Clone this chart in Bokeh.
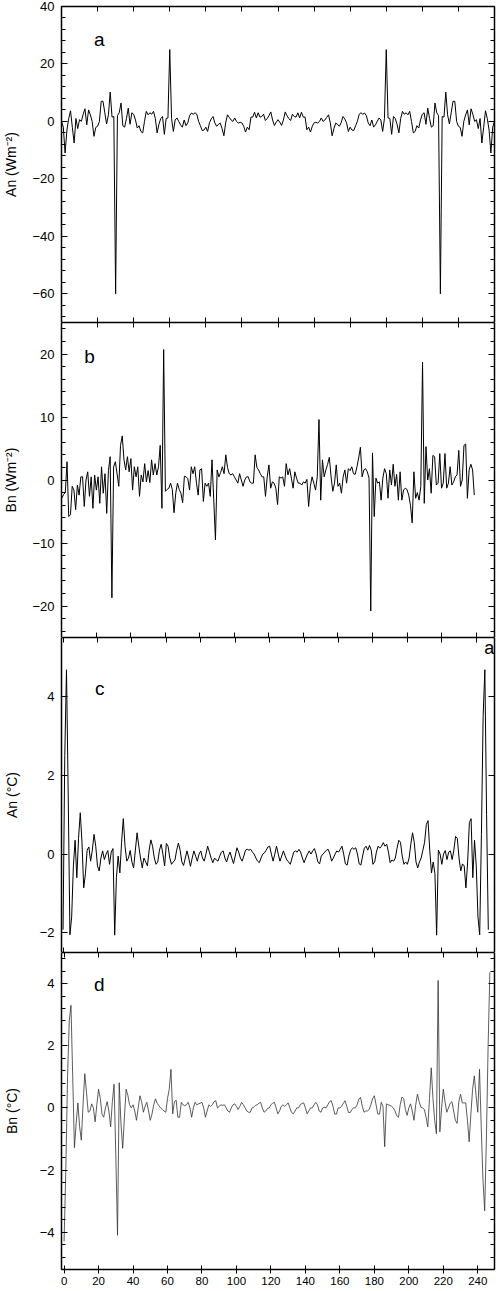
from bokeh.plotting import figure
from bokeh.models import LinearAxis, Range1d, SingleIntervalTicker, FixedTicker, Label, ColumnDataSource
from bokeh.layouts import column
from bokeh.embed import file_html
from bokeh.resources import INLINE

FONT = "Liberation Sans"

# ---------------- data ----------------
# a: An of the flux series (Wm-2), harmonics 0..240
an_flux = [
    0, -2, -11, -3, 1, 3.7, -2, -7.5, 1, -2.5,
    0.6, 0, 2.5, 4.4, -1.2, 4, 2.3, 0, -5.2, -2.1,
    -1.7, 0, 7, 7, 3, -0.9, 2.3, 10.2, 1.5, 1.7,
    -60, 2, 3, 6.4, -1.5, -2, 1, 4.6, -1, 3,
    2.5, 0.5, -2.3, -1.5, -3.5, -4, 0, 3.5, 2.3, 3,
    2.5, 3.5, 1, -4, -1, 1, 1.7, -4.5, 1, 1.2,
    25, 1, -3.5, 0.5, 1.2, 0, -1.2, -2, 0.5, -1.5,
    -0.5, 2, 2.9, 2.5, 3, 2.5, 0, -1.5, -3.2, -3,
    -2, -3.5, -0.5, 0.9, 1.7, -0.5, -1.7, -1, -0.6, -2.5,
    -5, -0.5, 2.3, 1.4, 0.5, 0, 1.2, 0, -0.6, -0.3,
    -0.5, -1.7, -3.7, -2, -2.9, 1.5, 1.5, 3.2, 1.2, 3,
    1.5, 1.7, 2.5, 0.3, 1, 2, 3.3, 0.5, -1.4, -0.3,
    0.6, -0.3, -1.4, 0.5, 3.3, 2, 1, 0.3, 2.5, 1.7,
    1.5, 3, 1.2, 3.2, 1.5, 1.5, -2.9, -2, -3.7, -1.7,
    -0.5, -0.3, -0.6, 0, 1.2, 0, 0.5, 1.4, 2.3, -0.5,
    -5, -2.5, -0.6, -1, -1.7, -0.5, 1.7, 0.9, -0.5, -3.5,
    -2, -3, -3.2, -1.5, 0, 2.5, 3, 2.5, 2.9, 2,
    -0.5, -1.5, 0.5, -2, -1.2, 0, 1.2, 0.5, -3.5, 1,
    25, 1.2, 1, -4.5, 1.7, 1, -1, -4, 1, 3.5,
    2.5, 3, 2.3, 3.5, 0, -4, -3.5, -1.5, -2.3, 0.5,
    2.5, 3, -1, 4.6, 1, -2, -1.5, 6.4, 3, 2,
    -60, 1.7, 1.5, 10.2, 2.3, -0.9, 3, 7, 7, 0,
    -1.7, -2.1, -5.2, 0, 2.3, 4, -1.2, 4.4, 2.5, 0,
    0.6, -2.5, 1, -7.5, -2, 3.7, 1, -3, -11, -2,
    0,
]

# b: Bn of the flux series (Wm-2), harmonics 0..239
bn_flux = [
    -2.9, -2.3, -2, 2.9, -5.8, -5.5, -1, -1.6, -4.7, -0.8,
    -2.4, 0.5, 0.5, -4.2, 0, 1.3, -2.6, 0.5, -4.5, 0.8,
    -1.6, 0.5, -3.7, 2.1, -2.1, 1, -5.3, 1.5, 3.7, -18.7,
    2.1, 2.9, 1, -1, 5.5, 7, 3.2, 1.6, 3.7, 1.3,
    3.4, -1.6, 2.1, 0.5, 2.1, -2.6, 0.8, -0.3, 2.6, -0.3,
    1.5, -0.4, 3.2, 0.8, 2.6, 0.8, 2.1, 5.5, -4.5, 20.7,
    -1.8, -1.5, -1.3, -0.5, -1.5, -5.2, -2.1, -0.5, -1.5, -2.1,
    -3.6, 0.6, 0.5, 0.2, -1.6, 2.1, 1, 2.1, -0.5, -2.4,
    1.6, 1.8, -3.4, -0.5, -1, -0.5, -2.6, 3.2, -3, -9.5,
    1.6, 0.5, 1.2, 2.1, 1, 4, 2, 1, 0.8, 1,
    0.5, 0, -0.5, 1, 0, -1, 0, 0.5, 0.5, -0.3,
    -0.5, -0.5, 4, 2, 1.6, 1, 0.5, 0.5, -2.6, 0.5,
    2.4, -1.3, -0.3, -0.5, -1.3, -3.9, 0.5, 0.3, 0.5, -1,
    2.6, 0.8, 1.8, 0.3, -1.3, 1.3, 0.3, -0.5, -0.5, -0.8,
    -0.3, -0.5, 0.1, -4.2, -1, 0.5, -0.5, -1.6, 0.5, 9.6,
    -3.2, 3.2, 0.5, 1.6, 2.5, 3.6, 0.5, -1.8, -0.5, 2.4,
    -1, -0.5, -2.1, 0.5, 1.6, -0.5, 1.8, 1.5, 2.1, 1,
    0.9, 2.1, 3.5, 5.2, 0.5, 1.6, 1.8, 1.3, 0.3, -20.8,
    4.3, -5.8, 0.3, -0.5, -0.3, -3.2, 0.3, 1.8, 1, -2.9,
    1.6, -0.8, 2.5, -1, 0.9, -3.2, 1.3, -3.2, -1.6, -1.3,
    -1.5, -2.4, -4, -6.8, 1.3, -2.9, -2, -3.2, -1, 18.7,
    -3.7, 5.3, 0, 1.8, -2.1, 3.9, 3.7, -0.8, -0.5, 4.2,
    -1.3, -0.5, 4.2, -1.3, -0.5, 2.1, -0.8, -0.3, 0.5, 0.8,
    4.7, -1, 0, 5.5, 5.7, -2.9, 1.6, 2.5, 1.6, -2.4,
]

# c: An of the temperature series (deg C), harmonics 0..247
an_temp = [
    -1.92, 2.5, 4.68, 1.5, -2.05, -1.6, -0.3, 0.35, -0.6, 0.4,
    1.05, 0.3, -0.86, -0.5, 0.1, 0.18, -0.18, 0.1, 0.5, 0.2,
    -0.3, -0.43, -0.1, 0.08, -0.14, 0, 0.09, -0.26, 0.05, 0.14,
    -2.06, -0.6, -0.05, -0.48, 0.3, 0.9, 0.2, -0.18, -0.1, 0.09,
    -0.2, -0.35, 0.1, 0.54, 0.2, -0.1, -0.35, -0.1, -0.2, -0.3,
    0.1, 0.36, 0.2, -0.1, -0.26, -0.2, 0.1, 0.25, 0, -0.3,
    0.27, 0.2, -0.1, -0.26, -0.2, -0.15, 0.1, 0.28, 0.1, -0.2,
    -0.29, -0.1, 0.08, -0.1, -0.31, -0.1, 0.08, -0.05, -0.18, 0,
    0.08, -0.1, -0.18, 0, 0.2, 0.05, -0.1, -0.22, -0.1, -0.15,
    -0.18, -0.05, 0.05, 0.08, -0.1, -0.2, -0.05, 0.05, -0.1, -0.24,
    -0.05, 0.16, 0.05, -0.1, -0.18, -0.05, 0.1, 0.12, 0.1, 0.12,
    0.05, 0, -0.1, -0.18, -0.22, -0.1, 0, 0.03, 0.1, 0.18,
    0.2, 0, -0.18, 0, 0.2, 0, -0.18, -0.05, 0.08, -0.05,
    -0.15, -0.2, -0.26, -0.1, 0.05, 0.08, 0.05, 0.12, 0.05, -0.1,
    -0.22, -0.1, 0, 0.08, 0, 0.08, 0.14, 0, -0.2, -0.25,
    -0.05, 0, 0.05, 0.1, 0.12, 0, -0.18, -0.1, 0, 0.08,
    0.05, 0.12, 0.2, 0, -0.25, -0.28, -0.05, 0.1, 0.16, 0.12,
    0.16, 0, -0.25, -0.28, -0.05, 0.15, 0.2, 0.1, 0.22, 0.1,
    -0.26, -0.2, 0.05, 0.2, 0.15, 0.2, 0.29, 0.2, 0.25, 0.05,
    -0.22, -0.15, -0.18, -0.1, 0.15, 0.35, 0.3, -0.05, -0.26, -0.2,
    -0.26, -0.1, 0.25, 0.54, 0.3, -0.2, -0.35, -0.2, -0.1, 0.1,
    0.3, 0.75, 0.85, 0.1, -0.48, -0.2, -0.5, -2.06, 0.1, 0,
    -0.26, 0, 0.09, -0.14, 0.05, 0.08, -0.14, 0.1, 0.45, 0.4,
    -0.1, -0.43, -0.25, -0.3, -0.86, -0.2, 0.8, 0.9, -0.6, 0.35,
    -0.3, -1.6, -2.05, 0.5, 3.5, 4.68, 1, -1.92,
]

# d: Bn of the temperature series (deg C), harmonics 0..247
bn_temp = [
    -4.3, -2, 1, 2.8, 3.3, 1, -1.28, -0.5, 0.16, -0.6,
    -1.04, 0.1, 1.1, 0.5, -0.14, -0.1, 0.13, 0, -0.45, 0.1,
    0.6, 0.3, -0.2, -0.3, 0, 0.2, -0.1, -0.61, 0.2, 0.76,
    -1.5, -4.1, 0.81, -0.5, -1.3, -0.3, 0.6, 0.4, 0.1, 0,
    0.1, -0.1, -0.4, 0, 0.39, 0.2, -0.14, 0.05, 0.18, -0.1,
    -0.4, -0.2, 0.1, 0.29, 0.15, 0.07, 0, -0.05, -0.1, -0.14,
    0.3, 0.6, 1.24, -0.19, 0.2, 0.25, -0.3, -0.3, 0.18, 0.1,
    0.07, 0.1, 0.18, 0, -0.3, 0, 0.18, 0.1, 0.13, 0.15,
    0.18, 0, -0.3, -0.1, 0.1, 0.05, 0.1, 0.2, 0.23, 0,
    0.05, 0.1, 0.08, 0.1, 0, -0.1, -0.14, 0, 0.1, 0.13,
    0.05, -0.05, 0.05, 0.18, 0.1, 0, -0.1, -0.14, -0.14, 0,
    0.02, 0.08, 0.1, 0.15, 0.18, 0, -0.14, -0.1, -0.02, 0,
    0.1, 0.15, 0.18, 0, -0.19, -0.1, 0.05, 0.1, 0.05, 0.1,
    0.16, 0, -0.15, -0.19, -0.1, 0, 0, 0.1, 0.14, 0.16,
    0, -0.19, -0.1, 0, 0, 0.1, 0.18, 0.1, -0.1, -0.14,
    0, 0.02, 0, 0.1, 0.2, 0.23, 0.05, -0.2, -0.2, 0,
    0, 0.05, 0.15, 0.23, 0.05, -0.15, -0.15, -0.05, 0, 0,
    0.1, 0.28, 0.34, 0.05, -0.14, -0.1, -0.1, -0.05, 0.1, 0.3,
    0.39, 0.1, -0.2, -0.2, 0.18, 0.05, -1.25, 0.13, 0.1, 0.08,
    0.05, 0, -0.1, -0.25, -0.3, 0.1, 0.35, 0.3, -0.05, -0.24,
    0, 0.13, -0.1, -0.4, 0.1, 0.44, 0.2, 0.02, 0, -0.05,
    -0.3, -0.61, 0.3, 1.29, 0.3, -0.4, -0.83, 4.1, -0.77, 0,
    0.6, 0.2, -0.14, 0, 0.15, 0.2, -0.1, -0.4, -0.5, 0.2,
    0.44, 0.16, 0.16, 0.16, -0.4, -1.09, -0.2, 0.6, 1.03, 0.4,
    -0.14, 1.24, -0.6, -2.3, -3.31, -1, 2, 4.36,
]

x_tick_values = [0, 20, 40, 60, 80, 100, 120, 140, 160, 180, 200, 220, 240]

# ---------------- layout ----------------
FW = 433          # frame width
LB = 55           # left border
RB = 2            # right border


def style_axis(ax, tin, tout, min_in=0, min_out=0, labels=False, size="13px"):
    ax.axis_line_color = "black"
    ax.axis_line_width = 1.5
    ax.major_tick_line_color = "black"
    ax.major_tick_line_width = 1
    ax.minor_tick_line_color = "black"
    ax.minor_tick_line_width = 1
    ax.major_tick_in = tin
    ax.major_tick_out = tout
    ax.minor_tick_in = min_in
    ax.minor_tick_out = min_out
    if labels:
        ax.major_label_text_font = FONT
        ax.major_label_text_font_size = size
        ax.major_label_text_color = "black"
    else:
        # tick marks only: labels are neither drawn nor given room
        ax.major_label_text_font_size = "0px"
        ax.major_label_text_color = None
        ax.major_label_standoff = 0


def make_panel(xs, ys, xr, yr, fh, top, ylabel, yint, yminor, lab_standoff,
               tag, tag_x, tag_y, line_color="black", line_width=1.0,
               bottom_labels=False, top_ticker=None):
    p = figure(frame_width=FW, frame_height=fh,
               x_range=Range1d(*xr), y_range=Range1d(*yr),
               x_axis_location=None, y_axis_location=None,
               output_backend="svg", toolbar_location=None,
               min_border_left=LB, min_border_right=RB,
               min_border_top=top, min_border_bottom=0,
               outline_line_color=None,
               background_fill_color="white", border_fill_color="white")
    p.grid.visible = False

    left = LinearAxis(ticker=SingleIntervalTicker(interval=yint, num_minor_ticks=yminor),
                      axis_label=ylabel)
    style_axis(left, 6, 0, 4 if yminor else 0, 0, labels=True, size="13px")
    left.major_label_standoff = 7
    left.axis_label_text_font = FONT
    left.axis_label_text_font_size = "14px"
    left.axis_label_text_font_style = "normal"
    left.axis_label_text_color = "black"
    left.axis_label_standoff = lab_standoff
    p.add_layout(left, "left")

    right = LinearAxis(ticker=SingleIntervalTicker(interval=yint, num_minor_ticks=yminor))
    style_axis(right, 6, 0, 4 if yminor else 0, 0)
    p.add_layout(right, "right")

    above = LinearAxis(ticker=top_ticker or SingleIntervalTicker(interval=20, num_minor_ticks=0))
    style_axis(above, 5, 0)
    p.add_layout(above, "above")

    below = LinearAxis(ticker=SingleIntervalTicker(interval=20, num_minor_ticks=0))
    if bottom_labels:
        style_axis(below, 4, 4, labels=True, size="11.5px")
        below.major_label_standoff = 3
    else:
        style_axis(below, 5, 0)
    p.add_layout(below, "below")

    src = ColumnDataSource(dict(x=xs, y=ys))
    p.line("x", "y", source=src, line_color=line_color, line_width=line_width)

    p.add_layout(Label(x=tag_x, y=tag_y, text=tag, text_font=FONT,
                       text_font_size="19px", text_color="black"))
    return p


a_x = list(range(len(an_flux)))
b_x = list(range(len(bn_flux)))
c_x = list(range(len(an_temp)))
d_x = list(range(len(bn_temp)))

a_rng = (0, 240)
b_rng = (-0.2, 250.7)
c_rng = (-0.9, 250.6)
d_rng = (-1.5, 249.7)

pa = make_panel(a_x, an_flux, a_rng, (-70, 40), 316, 6, "An (Wm\u207b\u00b2)", 20, 5, 10,
                "a", 18, 25)

# ticks of panel a continue across the a/b border
b_top_ticks = [b_rng[0] + v * (b_rng[1] - b_rng[0]) / 240.0 for v in x_tick_values]
pb = make_panel(b_x, bn_flux, b_rng, (-25, 25), 315, 0, "Bn (Wm\u207b\u00b2)", 10, 5, 10,
                "b", 13, 18, top_ticker=FixedTicker(ticks=b_top_ticks))

pc = make_panel(c_x, an_temp, c_rng, (-2.5, 5.5), 315, 0, "An (\u00b0C)", 2, 0, 17,
                "c", 18.6, 3.95)
pc.add_layout(Label(x=c_rng[1] - 3.0, y=5.5, text="a", text_font=FONT, text_font_size="18px",
                    text_align="center", text_baseline="top", text_color="black"))

pd = make_panel(d_x, bn_temp, d_rng, (-5.2, 5), 317, 0, "Bn (\u00b0C)", 2, 5, 17,
                "d", 17.3, 3.62, line_color="#333333", line_width=0.8, bottom_labels=True)

layout = column(pa, pb, pc, pd, spacing=0)

open("out.html", "w").write(file_html(layout, INLINE))
